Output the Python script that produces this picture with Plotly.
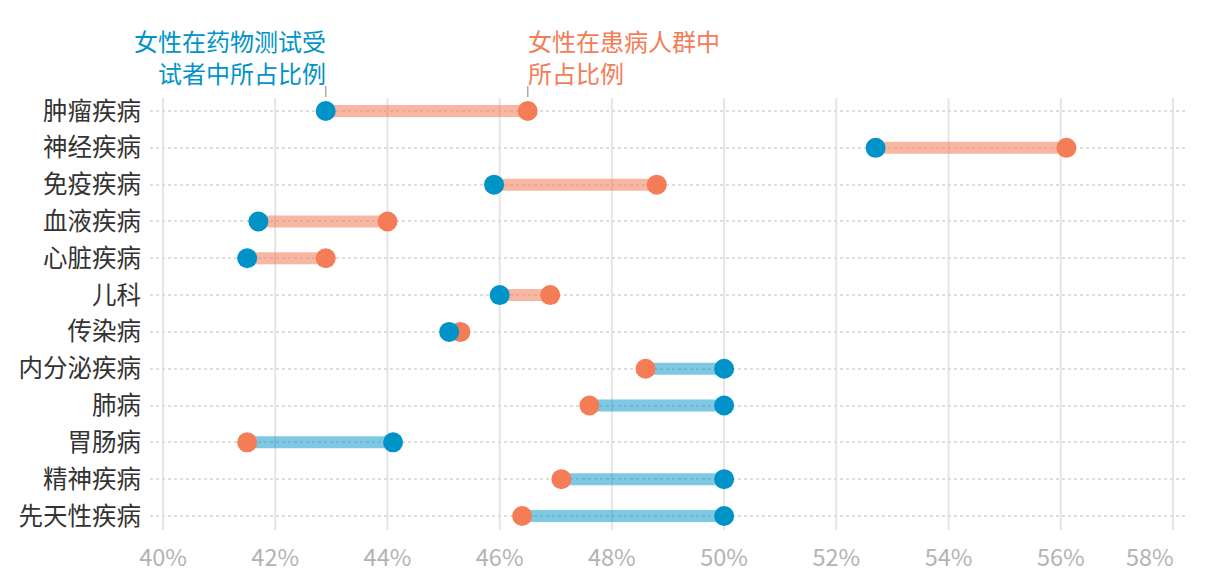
import plotly.graph_objects as go

categories = ["肿瘤疾病", "神经疾病", "免疫疾病", "血液疾病", "心脏疾病", "儿科", "传染病",
              "内分泌疾病", "肺病", "胃肠病", "精神疾病", "先天性疾病"]
trial_share = [42.9, 52.7, 45.9, 41.7, 41.5, 46.0, 45.1, 50.0, 50.0, 44.1, 50.0, 50.0]
patient_share = [46.5, 56.1, 48.8, 44.0, 42.9, 46.9, 45.3, 48.6, 47.6, 41.5, 47.1, 46.4]
x_ticks = [40, 42, 44, 46, 48, 50, 52, 54, 56, 58]
label_trial = ["女性在药物测试受", "试者中所占比例"]
label_patient = ["女性在患病人群中", "所占比例"]

BLUE = "#0093C8"
ORANGE = "#F47D57"
FONT = "Noto Sans CJK SC"

fig = go.Figure()

# connecting bars
ox, oy, bx, by = [], [], [], []
for c, t, p in zip(categories, trial_share, patient_share):
    if p >= t:
        ox += [t, p, None]; oy += [c, c, None]
    else:
        bx += [t, p, None]; by += [c, c, None]
fig.add_trace(go.Scatter(x=ox, y=oy, mode="lines", line=dict(color=ORANGE, width=12),
                         opacity=0.55, hoverinfo="skip", showlegend=False))
fig.add_trace(go.Scatter(x=bx, y=by, mode="lines", line=dict(color=BLUE, width=12),
                         opacity=0.5, hoverinfo="skip", showlegend=False))
fig.add_trace(go.Scatter(x=patient_share, y=categories, mode="markers",
                         marker=dict(color=ORANGE, size=20, line=dict(width=0)),
                         showlegend=False))
fig.add_trace(go.Scatter(x=trial_share, y=categories, mode="markers",
                         marker=dict(color=BLUE, size=20, line=dict(width=0)),
                         showlegend=False))

n = len(categories)
pad_lo = 40 - 13 / 56.1
pad_hi = 58 + 15 / 56.1
fig.update_layout(
    width=1220, height=580,
    margin=dict(l=150, r=32, t=98, b=50),
    plot_bgcolor="white", paper_bgcolor="white",
    font=dict(family=FONT, size=24, color="#333333"),
    xaxis=dict(range=[pad_lo, pad_hi], tickvals=x_ticks[:-1],
               ticktext=[f"{v}%" for v in x_ticks[:-1]], automargin=False,
               showgrid=False, zeroline=False, showline=False,
               tickfont=dict(size=23.5, color="#b3b3b3"), ticks="", ticklabelstandoff=11),
    yaxis=dict(type="category", categoryorder="array", categoryarray=categories,
               range=[n - 1 + 0.38, -0.353], showgrid=True, gridcolor="#dddddd",
               griddash="dot", gridwidth=1.5, zeroline=False, showline=False,
               automargin=False,
               tickfont=dict(size=24.5, color="#333333"), ticks="", ticklabelstandoff=8),
)

# vertical grid lines
for v in x_ticks:
    fig.add_shape(type="line", xref="x", yref="paper", x0=v, x1=v, y0=0, y1=1,
                  line=dict(color="#e5e5e5", width=2), layer="below")
# last tick label, kept inside the chart
fig.add_annotation(x=x_ticks[-1], xref="x", y=0, yref="paper", yanchor="middle",
                   xanchor="right", yshift=-26, xshift=3, text=f"{x_ticks[-1]}%",
                   showarrow=False, font=dict(size=23.5, color="#b3b3b3", family=FONT))

# header labels (one annotation per line) with pointer ticks
for i, line in enumerate(label_trial):
    fig.add_annotation(x=trial_share[0], xref="x", y=1, yref="paper", yanchor="middle",
                       xanchor="right", yshift=58 - 32 * i, xshift=2, text=line,
                       showarrow=False, font=dict(size=24, color=BLUE, family=FONT))
for i, line in enumerate(label_patient):
    fig.add_annotation(x=patient_share[0], xref="x", y=1, yref="paper", yanchor="middle",
                       xanchor="left", yshift=58 - 32 * i, xshift=-2, text=line,
                       showarrow=False, font=dict(size=24, color=ORANGE, family=FONT))
for v in (trial_share[0], patient_share[0]):
    fig.add_shape(type="line", xref="x", yref="paper", ysizemode="pixel", yanchor=1,
                  x0=v, x1=v, y0=1, y1=12, line=dict(color="#aaaaaa", width=1.5))

fig.write_html("out.html")
